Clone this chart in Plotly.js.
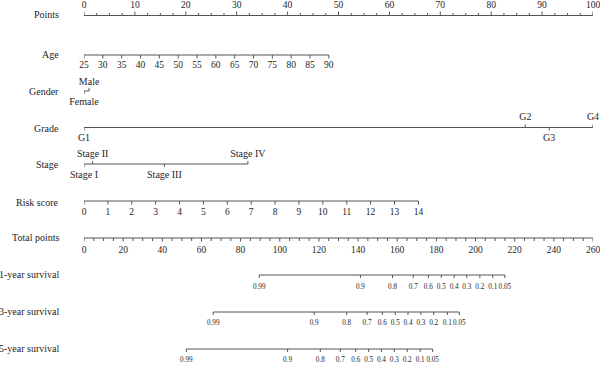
<!DOCTYPE html>
<html><head><meta charset="utf-8">
<script src="https://cdn.plot.ly/plotly-3.0.1.min.js"></script>
<style>html,body{margin:0;padding:0;background:#fff}#chart{width:600px;height:366px}</style>
</head><body><div id="chart"></div>
<script>
// ---------- data ----------
const pointsTickLabels = [0, 10, 20, 30, 40, 50, 60, 70, 80, 90, 100];
const ageLabels = ['25','30','35','40','45','50','55','60','65','70','75','80','85','90'];
const agePoints = [0, 3.7, 7.4, 11.1, 14.8, 18.5, 22.2, 25.9, 29.6, 33.3, 37.0, 40.7, 44.4, 48.1];
const genderLabels = ['Female', 'Male'];
const genderPoints = [0, 1];
const gradeLabels = ['G1', 'G2', 'G3', 'G4'];
const gradePoints = [0, 86.7, 91.4, 100];
const stageLabels = ['Stage I', 'Stage II', 'Stage III', 'Stage IV'];
const stagePoints = [0, 1.7, 15.8, 32.2];
const riskLabels = ['0','1','2','3','4','5','6','7','8','9','10','11','12','13','14'];
const riskPoints = [0, 4.69, 9.38, 14.08, 18.77, 23.46, 28.15, 32.85, 37.54, 42.23, 46.92, 51.62, 56.31, 61.0, 65.7];
const totalTickLabels = [0, 20, 40, 60, 80, 100, 120, 140, 160, 180, 200, 220, 240, 260];
const survLabels = ['0.99','0.9','0.8','0.7','0.6','0.5','0.4','0.3','0.2','0.1','0.05'];
const surv1Total = [89.5, 141.2, 157.6, 168.2, 175.9, 182.5, 189.1, 195.5, 202.2, 208.8, 215.0];
const surv3Total = [66.0, 117.6, 134.2, 144.6, 152.4, 159.0, 165.5, 172.1, 178.6, 185.6, 191.7];
const surv5Total = [52.3, 104.0, 120.7, 130.9, 138.8, 145.4, 151.9, 158.5, 165.1, 171.7, 178.1];
const rowNames = ['Points','Age','Gender','Grade','Stage','Risk score','Total points','1-year survival','3-year survival','5-year survival'];

// ---------- layout config (positions in pixel rows) ----------
const rowLineY = [15.5, 55, 91, 127.5, 164, 201, 238, 275, 312, 349];
const rowNameY = [14.5, 54, 91, 128.5, 164, 202.5, 237, 274, 311, 348];
const FONT = 'Liberation Serif';
const TXT = '#1e1e1e';
const LINE = '#555';

const traces = [];
function seg(xs, ys, xaxis) {
  traces.push({x: xs, y: ys, xaxis: xaxis, yaxis: 'y', mode: 'lines', type: 'scatter',
    line: {color: LINE, width: 1}, hoverinfo: 'skip', showlegend: false});
}
function ticks(xs, y0, len, xaxis) {
  const X = [], Y = [];
  xs.forEach((x, i) => { const l = Array.isArray(len) ? len[i] : len; X.push(x, x, null); Y.push(y0, y0 + l, null); });
  seg(X, Y, xaxis);
}
function labels(xs, ys, txt, size, xaxis) {
  traces.push({x: xs, y: ys, text: txt, xaxis: xaxis, yaxis: 'y', mode: 'text', type: 'scatter',
    textposition: 'middle center', textfont: {family: FONT, size: size, color: TXT},
    cliponaxis: false, hoverinfo: 'skip', showlegend: false});
}

// Points row
(function(){
  const y = rowLineY[0];
  seg([0, 100], [y, y], 'x');
  const minor = [];
  for (let v = 0; v <= 100; v += 2.5) if (v % 10 !== 0) minor.push(v);
  ticks(minor, y, -2.5, 'x');
  ticks(pointsTickLabels, y, -4, 'x');
  labels(pointsTickLabels, pointsTickLabels.map(() => 5.5), pointsTickLabels.map(String), 9.5, 'x');
})();

function belowRow(pts, txt, y, ly, size) {
  seg([pts[0], pts[pts.length - 1]], [y, y], 'x');
  ticks(pts, y, 3.5, 'x');
  labels(pts, pts.map(() => ly), txt, size, 'x');
}
belowRow(agePoints, ageLabels, rowLineY[1], 66, 9.5);

function altRow(pts, txt, y, sides, aboveY, belowY, size) {
  seg([pts[0], pts[pts.length - 1]], [y, y], 'x');
  ticks(pts, y, sides.map(s => s === 'a' ? -3 : 3), 'x');
  labels(pts, sides.map(s => s === 'a' ? aboveY : belowY), txt, size, 'x');
}
altRow(genderPoints, genderLabels, rowLineY[2], ['b', 'a'], 82, 102, 10);
altRow(gradePoints, gradeLabels, rowLineY[3], ['b', 'a', 'b', 'a'], 117, 138, 10);
altRow(stagePoints, stageLabels, rowLineY[4], ['b', 'a', 'b', 'a'], 154, 175.5, 10);

belowRow(riskPoints, riskLabels, rowLineY[5], 212.5, 9.5);

// Total points
(function(){
  const y = rowLineY[6];
  seg([0, 260], [y, y], 'x2');
  const minor = [];
  for (let v = 0; v <= 260; v += 5) if (v % 20 !== 0) minor.push(v);
  ticks(minor, y, 3, 'x2');
  ticks(totalTickLabels, y, 3.5, 'x2');
  labels(totalTickLabels, totalTickLabels.map(() => 251), totalTickLabels.map(String), 9.5, 'x2');
})();

function survRow(tp, y, ly) {
  seg([tp[0], tp[tp.length - 1]], [y, y], 'x2');
  ticks(tp, y, 3, 'x2');
  labels(tp, tp.map(() => ly), survLabels, 7.2, 'x2');
}
survRow(surv1Total, rowLineY[7], 287);
survRow(surv3Total, rowLineY[8], 323.5);
survRow(surv5Total, rowLineY[9], 360);

const annotations = rowNames.map((n, i) => ({
  text: n, xref: 'paper', x: 0, xanchor: 'right', xshift: -23,
  yref: 'y', y: rowNameY[i], yanchor: 'middle', showarrow: false,
  font: {family: FONT, size: 10, color: TXT}
}));

const layout = {
  width: 600, height: 366,
  margin: {l: 84, r: 7, t: 0, b: 0},
  paper_bgcolor: '#fff', plot_bgcolor: '#fff',
  xaxis: {range: [0, 100], visible: false, fixedrange: true},
  xaxis2: {range: [0, 260], visible: false, overlaying: 'x', fixedrange: true},
  yaxis: {range: [366, 0], visible: false, fixedrange: true},
  annotations: annotations,
  showlegend: false
};
Plotly.newPlot('chart', traces, layout, {staticPlot: true, displayModeBar: false});
</script></body></html>
